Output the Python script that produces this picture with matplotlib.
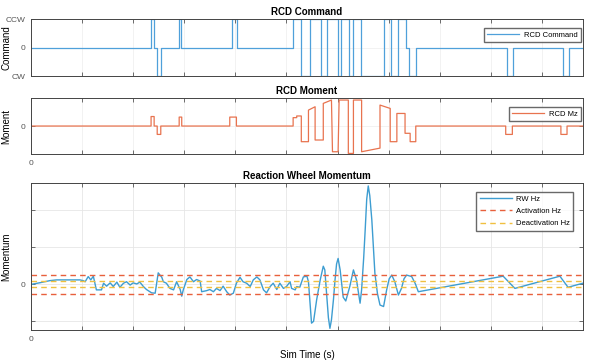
import matplotlib
matplotlib.use("Agg")
from matplotlib import pyplot as plt
import numpy as np

plt.rcParams['font.family'] = ['Liberation Sans', 'DejaVu Sans']

# RCD command (step signal): time, level (-1 = CW, 0, +1 = CCW)
cmd_t = [0, 235, 241, 247, 254, 290, 294, 393, 403, 513, 528, 546, 568, 579, 601, 607,
         622, 630, 646, 691, 705, 718, 734, 740, 753, 931, 943, 1041, 1053, 1080]
cmd_v = [0, 1, 0, -1, 0, 1, 0, 1, 0, 1, -1, 1, -1, 1, -1, 1,
         -1, 1, -1, 1, -1, 1, 0, -1, 0, -1, 0, -1, 0, 0]

# RCD moment
mz_t = [0, 235, 235, 241, 241, 247, 247, 254, 254, 290, 290, 295, 295, 389, 389, 402, 402,
        513, 513, 520, 520, 529, 529, 543, 543, 556, 556, 572, 572, 588, 590, 601, 603, 621,
        621, 631, 631, 647, 647, 683, 683, 703, 703, 716, 716, 732, 732, 742, 742, 753, 753,
        929, 929, 942, 942, 1037, 1037, 1049, 1049, 1080]
mz_v = [0, 0, 0.34, 0.34, 0, 0, -0.3, -0.3, 0, 0, 0.32, 0.32, 0, 0, 0.32, 0.32, 0,
        0, 0.30, 0.30, 0.36, 0.36, -0.56, -0.56, 0.57, 0.69, -0.5, -0.5, 0.81, 0.93, -0.92, -0.92, 0.93, 0.93,
        -0.98, -0.98, 0.93, 0.93, -0.92, -0.79, 0.75, 0.63, -0.56, -0.56, 0.45, 0.45, -0.26, -0.26, -0.56, -0.56, 0,
        0, -0.3, -0.3, 0, 0, -0.3, -0.3, 0, 0]

# reaction wheel momentum
rw_t = [0, 5, 20, 37, 50, 96, 102, 106, 112, 117, 122, 128, 138, 142, 148, 155, 161, 168,
        174, 181, 187, 194, 200, 207, 213, 220, 226, 236, 243, 249, 256, 259, 265, 272, 279,
        285, 292, 295, 298, 305, 311, 318, 324, 331, 334, 344, 350, 357, 363, 370, 376, 383,
        389, 396, 402, 409, 415, 422, 429, 435, 442, 448, 455, 461, 468, 474, 481, 487, 494,
        500, 507, 510, 517, 520, 526, 533, 540, 543, 546, 549, 553, 559, 566, 572, 575, 579,
        582, 585, 588, 592, 595, 598, 601, 605, 611, 616, 624, 631, 637, 644, 647, 651, 654,
        657, 660, 663, 667, 670, 673, 678, 683, 690, 696, 701, 706, 712, 719, 725, 730, 735,
        745, 752, 758, 924, 947, 1035, 1051, 1080]
rw_v = [0.0, 0.01, 0.05, 0.10, 0.12, 0.12, 0.10, 0.07, 0.21, 0.12, 0.22, -0.15, -0.15, 0.03, -0.05, 0.04, -0.06, 0.06,
        -0.08, 0.03, 0.07, -0.02, 0.04, 0.01, 0.06, -0.06, -0.14, -0.23, -0.24, 0.31, 0.19, 0.07, 0.03, -0.11, -0.15,
        0.07, -0.14, -0.32, -0.15, 0.13, 0.20, 0.07, 0.13, 0.09, -0.20, -0.17, -0.14, -0.20, -0.11, -0.17, -0.05, -0.20,
        -0.29, -0.24, 0.03, 0.19, 0.07, 0.03, -0.06, 0.12, 0.20, 0.12, -0.15, -0.23, -0.06, 0.03, -0.14, 0.03, -0.11,
        -0.06, 0.07, -0.11, -0.15, -0.06, -0.08, 0.20, 0.22, 0.07, -0.50, -1.05, -1.00, -0.42, 0.12, 0.49, 0.39, -0.33,
        -0.90, -1.19, -0.96, -0.40, 0.12, 0.55, 0.70, 0.39, -0.35, -0.45, -0.05, 0.39, 0.12, -0.51, -0.15, 0.70, 1.47,
        2.30, 2.66, 2.40, 1.74, 1.00, 0.30, -0.25, -0.56, -0.60, -0.15, 0.15, 0.25, 0.07, -0.29, -0.11, 0.15, 0.25,
        0.21, 0.02, -0.20, 0.22, -0.11, 0.22, -0.08, 0.03]

activation = 0.25
deactivation = 0.08
x_ticks = [0, 100, 200, 300, 400, 500, 600, 700, 800, 900, 1000]

grey = '#555555'


def style(ax, grid_col):
    ax.set_xlim(0, 1080)
    ax.set_xticks(x_ticks)
    ax.tick_params(direction='in', length=3, width=0.6, colors=grey, labelsize=6,
                   top=True, right=True, pad=4)
    for s in ax.spines.values():
        s.set_color('#444444')
        s.set_linewidth(0.7)
    ax.grid(True, color=grid_col, linewidth=0.6)
    ax.set_axisbelow(True)
    ax.yaxis.set_label_coords(-0.036, 0.5)


def add_legend(ax, anchor, pad=0.45, spacing=0.3):
    ax.legend(loc='upper right', fontsize=5.5, handlelength=4.2, frameon=True, fancybox=False,
              edgecolor='#444444', borderpad=pad, labelspacing=spacing, handletextpad=0.6,
              borderaxespad=0, bbox_to_anchor=anchor)


fig = plt.figure(figsize=(5.89, 3.63), dpi=100)
ax1 = fig.add_axes([0.0526, 0.7906, 0.937, 0.157])
ax2 = fig.add_axes([0.0526, 0.5758, 0.937, 0.154])
ax3 = fig.add_axes([0.0526, 0.0909, 0.937, 0.405])

ax1.plot(cmd_t, cmd_v, drawstyle='steps-post', color='#4FA0DA', lw=0.9, label='RCD Command')
style(ax1, '#f0f0f0')
ax1.set_ylim(-1, 1)
ax1.set_yticks([-1, 0, 1])
ax1.set_yticklabels(['CW', '0', 'CCW'])
ax1.set_xticklabels([''] * len(x_ticks))
ax1.set_ylabel('Command', fontsize=7)
ax1.set_title('RCD Command', fontsize=7, fontweight='bold', pad=3)
add_legend(ax1, (0.997, 0.84))

ax2.plot(mz_t, mz_v, color='#E8734F', lw=0.9, label='RCD Mz')
style(ax2, '#f0f0f0')
ax2.set_ylim(-1, 1)
ax2.set_yticks([0])
ax2.set_yticklabels(['0'])
ax2.set_xticklabels(['0'] + [''] * (len(x_ticks) - 1))
ax2.set_ylabel('Moment', fontsize=7)
ax2.set_title('RCD Moment', fontsize=7, fontweight='bold', pad=3)
add_legend(ax2, (0.997, 0.84))

ax3.plot(rw_t, rw_v, color='#3D9DD1', lw=1.0, label='RW Hz')
ax3.axhline(activation, color='#E8603C', lw=1.0, ls=(0, (4, 3)), label='Activation Hz')
ax3.axhline(-activation, color='#E8603C', lw=1.0, ls=(0, (4, 3)))
ax3.axhline(deactivation, color='#F0C040', lw=1.0, ls=(0, (4, 3)), label='Deactivation Hz')
ax3.axhline(-deactivation, color='#F0C040', lw=1.0, ls=(0, (4, 3)))
style(ax3, '#e6e6e6')
ax3.set_ylim(-1.235, 2.74)
ax3.set_yticks([-1, 0, 1, 2])
ax3.set_yticklabels(['', '0', '', ''])
ax3.set_xticklabels(['0'] + [''] * (len(x_ticks) - 1))
ax3.set_ylabel('Momentum', fontsize=7)
ax3.set_xlabel('Sim Time (s)', fontsize=7, labelpad=5)
ax3.set_title('Reaction Wheel Momentum', fontsize=7, fontweight='bold', pad=3)
add_legend(ax3, (0.983, 0.94), pad=0.45, spacing=0.65)

fig.savefig('out.png', dpi=100)
